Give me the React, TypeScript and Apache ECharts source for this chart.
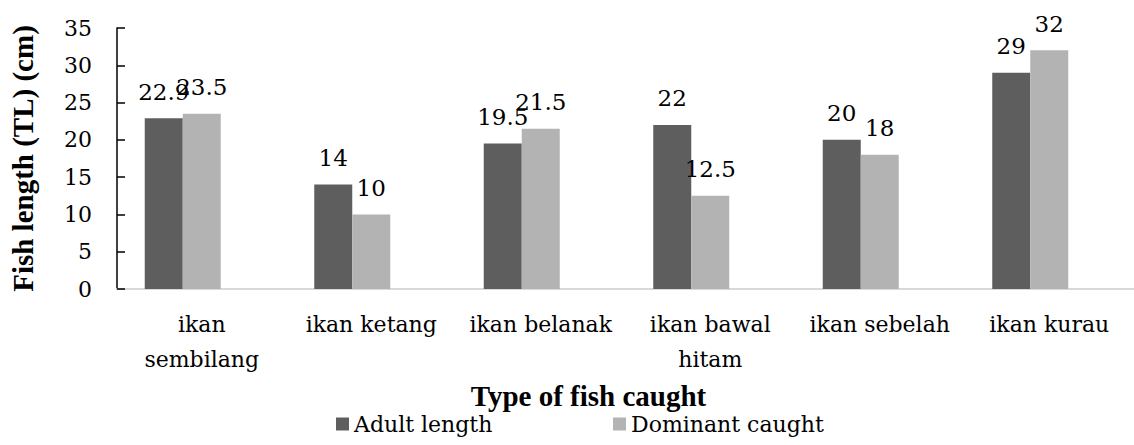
import React, { useEffect, useRef } from "react";
import * as echarts from "echarts";

const categories = [
  "ikan\nsembilang",
  "ikan ketang",
  "ikan belanak",
  "ikan bawal\nhitam",
  "ikan sebelah",
  "ikan kurau",
];
const adultLength = [22.9, 14, 19.5, 22, 20, 29];
const dominantCaught = [23.5, 10, 21.5, 12.5, 18, 32];
const blankSeries = [null, null, null, null, null, null];
const seriesNames = ["Adult length", "Dominant caught"];
const seriesColors = ["#5e5e5e", "#b3b3b3"];
const yTicks = { min: 0, max: 35, interval: 5 };

const REG = "DejaVu Serif";
const BOLD = "Liberation Serif";

export default function App() {
  const ref = useRef<HTMLDivElement>(null);
  useEffect(() => {
    document.body.style.margin = "0";
    const chart = echarts.init(ref.current!, undefined, { renderer: "svg" });
    const labelStyle = {
      show: true,
      position: "top" as const,
      distance: 15,
      color: "#000",
      fontFamily: REG,
      fontSize: 23,
    };
    const legendBase = {
      top: 413,
      padding: 0,
      itemWidth: 13,
      itemHeight: 13,
      icon: "rect",
      textStyle: { fontFamily: REG, fontSize: 22, color: "#000" },
    };
    chart.setOption({
      animation: false,
      backgroundColor: "#fff",
      textStyle: { fontFamily: REG },
      grid: { left: 102, top: 28, width: 1046, height: 261, containLabel: false },
      legend: [
        { ...legendBase, data: [seriesNames[0]], left: 336 },
        { ...legendBase, data: [seriesNames[1]], left: 613 },
      ],
      xAxis: {
        type: "category",
        data: categories,
        name: "Type of fish caught",
        nameLocation: "middle",
        nameGap: 92,
        nameTextStyle: {
          fontFamily: BOLD,
          fontSize: 29,
          fontWeight: "bold",
          color: "#000",
          padding: [0, 74, 0, 0],
        },
        axisLine: { lineStyle: { color: "#d9d9d9", width: 2 } },
        axisTick: { show: false },
        axisLabel: {
          color: "#000",
          fontFamily: REG,
          fontSize: 22,
          lineHeight: 35,
          margin: 18,
          interval: 0,
        },
      },
      yAxis: {
        type: "value",
        min: yTicks.min,
        max: yTicks.max,
        interval: yTicks.interval,
        name: "Fish length (TL) (cm)",
        nameLocation: "middle",
        nameGap: 80,
        nameTextStyle: { fontFamily: BOLD, fontSize: 29, fontWeight: "bold", color: "#000" },
        axisLine: { show: true, lineStyle: { color: "#000", width: 1.5 } },
        axisTick: { show: true, inside: true, length: 8, lineStyle: { color: "#000", width: 1.5 } },
        splitLine: { show: false },
        axisLabel: { color: "#000", fontFamily: REG, fontSize: 22, margin: 25 },
      },
      series: [
        {
          name: seriesNames[0],
          type: "bar",
          data: adultLength,
          barWidth: 38,
          barGap: "0%",
          itemStyle: { color: seriesColors[0] },
          label: labelStyle,
        },
        {
          name: seriesNames[1],
          type: "bar",
          data: dominantCaught,
          barWidth: 38,
          barGap: "0%",
          itemStyle: { color: seriesColors[1] },
          label: labelStyle,
        },
        {
          name: "blank",
          type: "bar",
          data: blankSeries,
          barWidth: 38,
          barGap: "0%",
          itemStyle: { color: "#ffffff" },
        },
      ],
    });
    return () => chart.dispose();
  }, []);
  return <div ref={ref} style={{ width: 1134, height: 445 }} />;
}
